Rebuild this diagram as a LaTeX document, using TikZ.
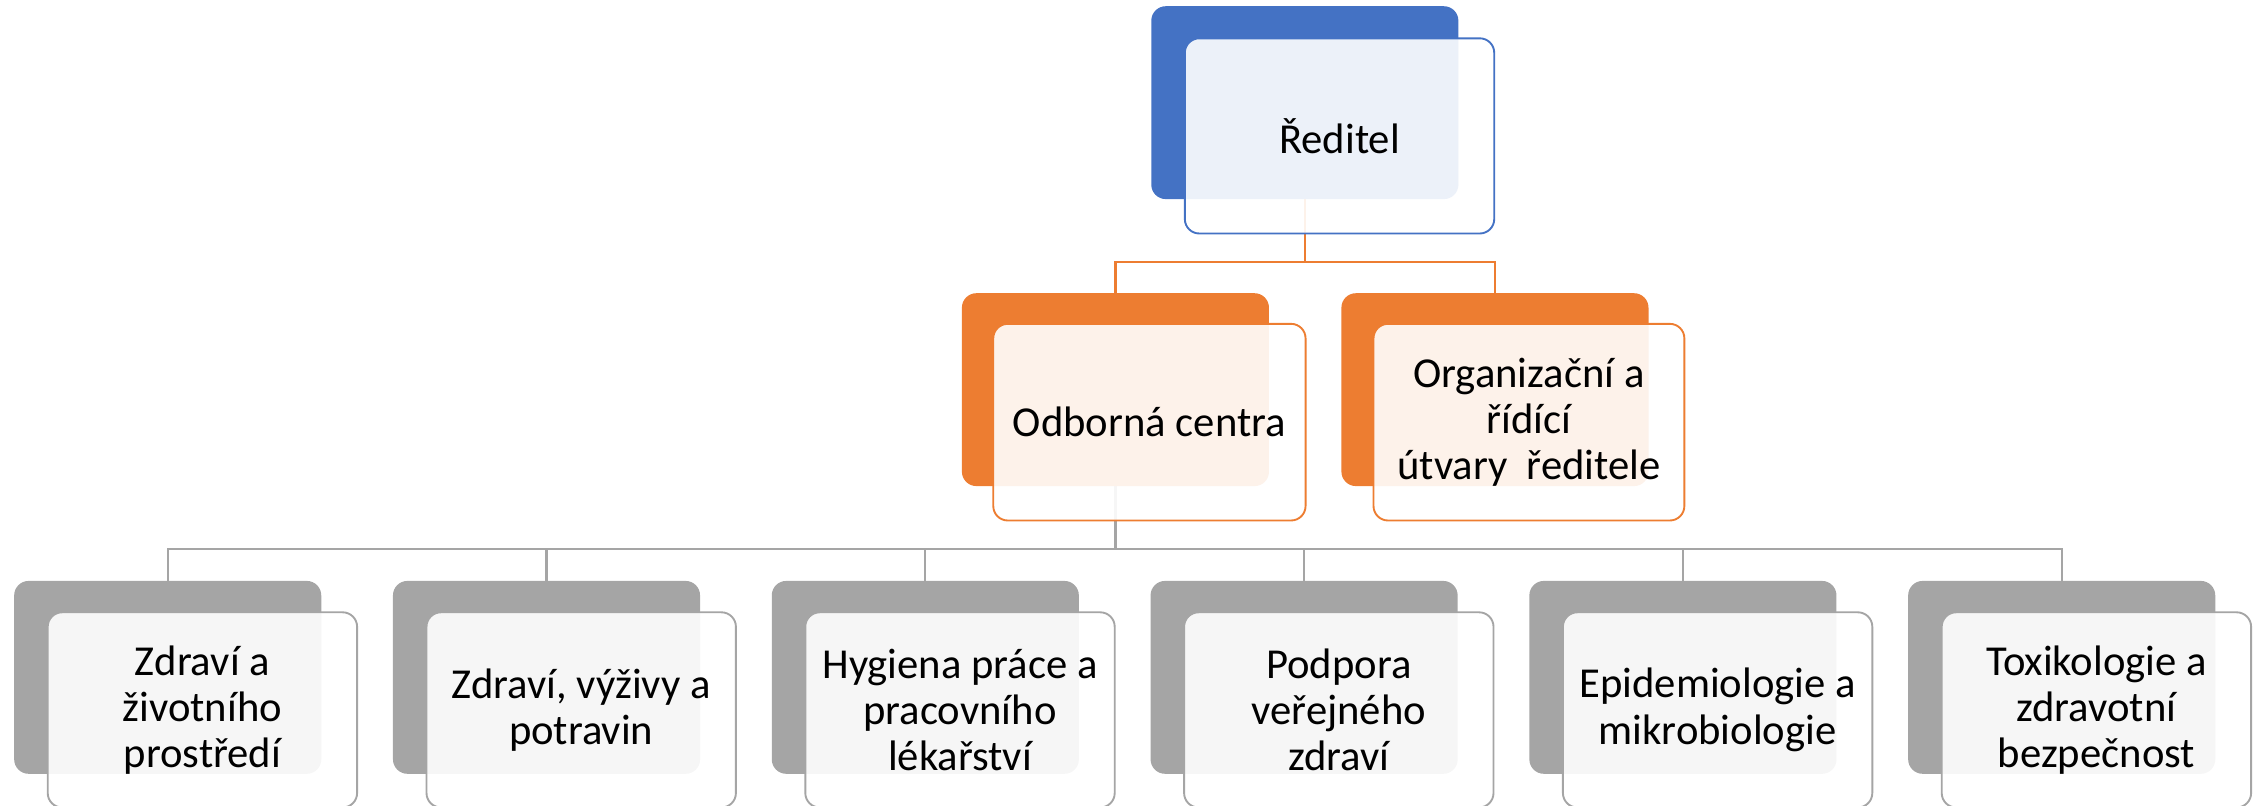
\documentclass[tikz,border=0pt]{standalone}
\usepackage{fontspec}
\setmainfont{Carlito}
\definecolor{cblue}{HTML}{4472C4}
\definecolor{corange}{HTML}{ED7D31}
\definecolor{cgray}{HTML}{A5A5A5}
\begin{document}
\begin{tikzpicture}[x=1pt,y=-1pt,
  backbox/.style={rectangle,rounded corners=10pt,inner sep=0pt,minimum width=212pt,minimum height=133pt,draw=none},
  frontbox/.style={rectangle,rounded corners=10pt,inner sep=0pt,minimum width=214pt,minimum height=135pt,
     line width=1.3pt,fill=white,fill opacity=0.9,text opacity=1,align=center,
     font=\fontsize{29.5}{32}\selectfont},
  conn/.style={line width=1.5pt}]
\useasboundingbox (0,0) rectangle (1568,557);
\clip (0,0) rectangle (1568,557);
% node positions (back boxes)
\path
  node[backbox] (rb) at (902.5,71) {}
  node[backbox] (ocb) at (771.5,269.5) {}
  node[backbox] (oub) at (1034,269.5) {};
\foreach \i in {1,...,6}{
  \path node[backbox] (b\i b) at ({116+262*(\i-1)},468.5) {};
}
% connectors
\coordinate (otop) at (902.5,181);
\coordinate (ghub) at (771.5,380);
\draw[conn,corange] (rb.south) -- (otop) -| (ocb.north);
\draw[conn,corange] (otop) -| (oub.north);
\draw[conn,cgray] (ocb.south) -- (ghub);
\foreach \i in {1,...,6}{
  \draw[conn,cgray] (ghub) -| (b\i b.north);
}
% back boxes filled
\fill[cblue,rounded corners=10pt] (rb.south west) rectangle (rb.north east);
\fill[corange,rounded corners=10pt] (ocb.south west) rectangle (ocb.north east);
\fill[corange,rounded corners=10pt] (oub.south west) rectangle (oub.north east);
\foreach \i in {1,...,6}{
  \fill[cgray,rounded corners=10pt] (b\i b.south west) rectangle (b\i b.north east);
}
% front boxes
\node[frontbox,draw=cblue] (r) at (926.5,94) {Ředitel};
\node[frontbox,draw=corange,minimum width=216pt,minimum height=136pt] (oc) at (795,292) {Odborná centra};
\node[frontbox,draw=corange,minimum width=215pt,minimum height=136pt] (ou) at (1057.5,292) {Organizační a\\řídící\\útvary\ \ ředitele};
\node[frontbox,draw=cgray] (b1) at (140,491) {Zdraví a\\životního\\prostředí};
\node[frontbox,draw=cgray] (b2) at (402,491) {Zdraví, výživy a\\potravin};
\node[frontbox,draw=cgray] (b3) at (664,491) {Hygiena práce a\\pracovního\\lékařství};
\node[frontbox,draw=cgray] (b4) at (926,491) {Podpora\\veřejného\\zdraví};
\node[frontbox,draw=cgray] (b5) at (1188,491) {Epidemiologie a\\mikrobiologie};
\node[frontbox,draw=cgray] (b6) at (1450,491) {Toxikologie a\\zdravotní\\bezpečnost};
\end{tikzpicture}
\end{document}
